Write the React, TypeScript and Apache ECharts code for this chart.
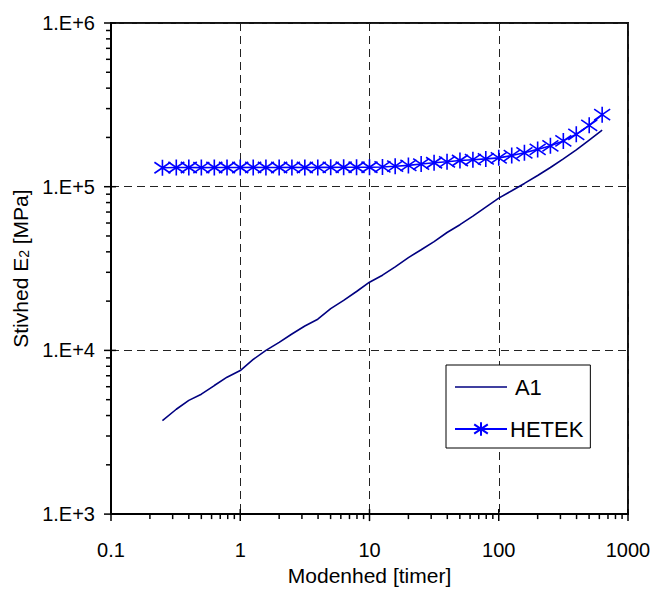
import React, { useEffect, useRef } from "react";
import * as echarts from "echarts";

// Maturity time [hours]
const times = [0.25, 0.32, 0.4, 0.5, 0.63, 0.79, 1, 1.26, 1.58, 2, 2.51, 3.16, 3.98, 5.01, 6.31, 7.94, 10, 12.6, 15.8, 20, 25.1, 31.6, 39.8, 50.1, 63.1, 79.4, 100, 126, 158, 200, 251, 316, 398, 501, 631];
// Stiffness E2 [MPa]
const a1Values = [3720, 4370, 4950, 5400, 6100, 6860, 7530, 8810, 10000, 11200, 12600, 14100, 15500, 18000, 20200, 22900, 26100, 28800, 32400, 36900, 41200, 46200, 52500, 58600, 66100, 75000, 85100, 94400, 104700, 117000, 131000, 147900, 167900, 192800, 221300];
const hetekValues = [130500, 131000, 131000, 130800, 131000, 131000, 131000, 131200, 131000, 131000, 131200, 131000, 131200, 131300, 131500, 131500, 131500, 132000, 133400, 134900, 137500, 140000, 141900, 144500, 146200, 147900, 150000, 154900, 161100, 169000, 177800, 190500, 208900, 237100, 275400];

const xMajorTicks = [0.1, 1, 10, 100, 1000];
const yMajorTicks = [1000, 10000, 100000, 1000000];

const FONT = "'Liberation Sans', Arial, sans-serif";
const ASTERISK = "path://M8,0 L8,16 M0,2.5 L16,13.5 M0,13.5 L16,2.5";
const LINE_ICON = "path://M0,0 L52,0 L52,1.6 L0,1.6 Z";

export default function App() {
  const ref = useRef<HTMLDivElement>(null);

  useEffect(() => {
    if (!ref.current) return;
    const chart = echarts.init(ref.current, null, { renderer: "svg" });

    // Tick marks (log minor ticks at 2..9 of each decade)
    const tickData: number[][] = [];
    for (let i = 0; i < xMajorTicks.length; i++) {
      tickData.push([xMajorTicks[i], 1000, 1]);
      if (i < xMajorTicks.length - 1) {
        for (let m = 2; m <= 9; m++) tickData.push([xMajorTicks[i] * m, 1000, 0]);
      }
    }
    for (let i = 0; i < yMajorTicks.length; i++) {
      tickData.push([0.1, yMajorTicks[i], 3]);
      if (i < yMajorTicks.length - 1) {
        for (let m = 2; m <= 9; m++) tickData.push([0.1, yMajorTicks[i] * m, 2]);
      }
    }

    chart.setOption({
      animation: false,
      backgroundColor: "#fff",
      grid: {
        left: 111,
        right: 42,
        top: 23,
        bottom: 69,
        show: true,
        borderColor: "#111",
        borderWidth: 2,
      },
      legend: {
        data: [{ name: "A1", icon: LINE_ICON }, { name: "HETEK" }],
        orient: "vertical",
        left: 446,
        top: 365,
        padding: [11, 7, 8, 8],
        itemGap: 20,
        itemWidth: 52,
        itemHeight: 17,
        backgroundColor: "#fff",
        borderColor: "#000",
        borderWidth: 1,
        formatter: (n: string) => (n === "A1" ? " A1" : n),
        textStyle: { fontSize: 22, color: "#000", fontFamily: FONT, padding: [0, 0, 0, -2] },
      },
      xAxis: {
        type: "log",
        logBase: 10,
        min: 0.1,
        max: 1000,
        name: "Modenhed [timer]",
        nameLocation: "middle",
        nameGap: 42,
        nameTextStyle: { fontSize: 21, color: "#000", fontFamily: FONT },
        axisLine: { show: true, lineStyle: { color: "#000", width: 2 } },
        axisTick: { show: false },
        axisLabel: {
          margin: 26,
          fontSize: 20,
          color: "#000",
          fontFamily: FONT,
          formatter: (v: number) => String(Number(v.toPrecision(3))),
        },
        splitLine: { show: true, lineStyle: { color: "#222", width: 1, type: [8, 5] } },
      },
      yAxis: {
        type: "log",
        logBase: 10,
        min: 1000,
        max: 1000000,
        name: "Stivhed E{s|2} [MPa]",
        nameLocation: "middle",
        nameGap: 78,
        nameTextStyle: {
          fontSize: 21,
          color: "#000",
          fontFamily: FONT,
          rich: { s: { fontSize: 14, fontFamily: FONT, color: "#000", padding: [8, 0, 0, 0] } },
        },
        axisLine: { show: true, lineStyle: { color: "#000", width: 2 } },
        axisTick: { show: false },
        axisLabel: {
          margin: 16,
          fontSize: 20,
          color: "#000",
          fontFamily: FONT,
          formatter: (v: number) => "1.E+" + Math.round(Math.log10(v)),
        },
        splitLine: { show: true, lineStyle: { color: "#222", width: 1, type: [8, 5] } },
      },
      series: [
        {
          name: "A1",
          type: "line",
          data: times.map((t, i) => [t, a1Values[i]]),
          symbol: "none",
          lineStyle: { color: "#000080", width: 1.6 },
          itemStyle: { color: "#000080" },
          z: 3,
        },
        {
          name: "HETEK",
          type: "line",
          data: times.map((t, i) => [t, hetekValues[i]]),
          symbol: ASTERISK,
          symbolSize: 16,
          lineStyle: { color: "#0000ff", width: 1.6 },
          itemStyle: { color: "#0000ff", borderColor: "#0000ff", borderWidth: 1.6 },
          z: 4,
        },
        {
          name: "ticks",
          type: "custom",
          coordinateSystem: "cartesian2d",
          silent: true,
          clip: false,
          z: 10,
          encode: { x: 0, y: 1 },
          data: tickData,
          renderItem: (_params: any, api: any) => {
            const kind = api.value(2);
            const p = api.coord([api.value(0), api.value(1)]);
            let shape;
            if (kind === 0) shape = { x1: p[0], y1: p[1], x2: p[0], y2: p[1] + 5 };
            else if (kind === 1) shape = { x1: p[0], y1: p[1] - 5, x2: p[0], y2: p[1] + 7 };
            else if (kind === 2) shape = { x1: p[0] - 5, y1: p[1], x2: p[0], y2: p[1] };
            else shape = { x1: p[0] - 7, y1: p[1], x2: p[0] + 5, y2: p[1] };
            return { type: "line", shape, style: { stroke: "#000", lineWidth: 1.5 } };
          },
        },
      ],
    });

    return () => chart.dispose();
  }, []);

  return (
    <div
      ref={ref}
      style={{ position: "fixed", left: 0, top: 0, width: 670, height: 591, background: "#fff" }}
    />
  );
}
